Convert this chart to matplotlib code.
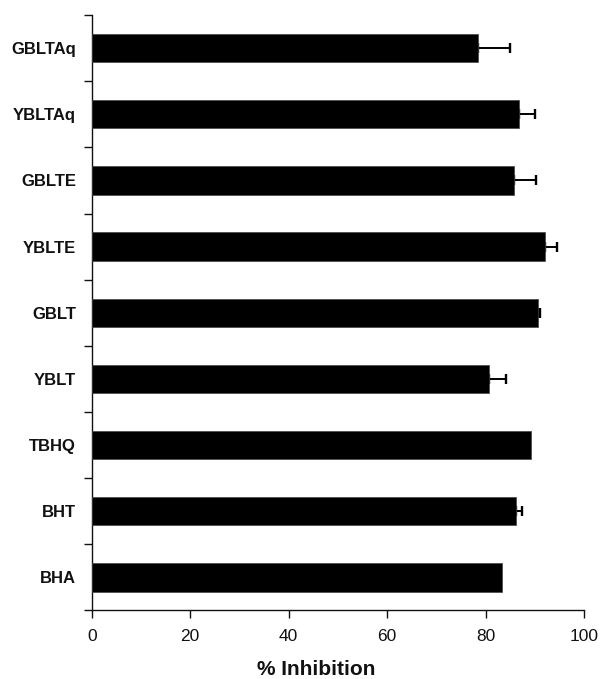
import matplotlib.pyplot as plt
import numpy as np

# Data (top to bottom as shown in the chart)
categories = ["GBLTAq", "YBLTAq", "GBLTE", "YBLTE", "GBLT", "YBLT", "TBHQ", "BHT", "BHA"]
inhibition = [78.4, 86.7, 85.8, 92.0, 90.6, 80.8, 89.2, 86.1, 83.3]
errors = [6.6, 3.3, 4.5, 2.6, 0.5, 3.4, 0.0, 1.3, 0.0]
x_ticks = [0, 20, 40, 60, 80, 100]

plt.rcParams["font.family"] = ["Liberation Sans", "DejaVu Sans"]

fig = plt.figure(figsize=(6.01, 6.79), dpi=100)
ax = fig.add_axes([0.1526, 0.1009, 0.8191, 0.877])

n = len(categories)
pos = np.arange(n)
ax.barh(pos, inhibition, height=0.43, color="black", edgecolor="#444444", linewidth=0.5, zorder=3)

# one-sided error bars (plus side only), drawn behind the bars
has_err = [e > 0 for e in errors]
ax.errorbar(np.array(inhibition)[has_err], pos[has_err],
            xerr=[np.zeros(sum(has_err)), np.array(errors)[has_err]],
            fmt="none", ecolor="black", elinewidth=1.4, capsize=3.3, capthick=1.7, zorder=2)

ax.set_ylim(n - 0.5, -0.5)
ax.set_xlim(0, 100)

# category boundary ticks (outward), labels centred on bars
ax.set_yticks(np.arange(-0.5, n, 1.0))
ax.set_yticklabels([])
ax.set_yticks(pos, minor=True)
ax.set_yticklabels(categories, minor=True, fontsize=12, fontweight="bold", color="#111111")
ax.tick_params(axis="y", which="major", direction="out", length=6, width=1, color="#111111")
ax.tick_params(axis="y", which="minor", length=0, pad=11.3)

ax.set_xticks(x_ticks)
ax.tick_params(axis="x", direction="out", length=6, width=1, labelsize=12.5, pad=7, color="#111111",
               labelcolor="#111111")
ax.set_xlabel("% Inhibition", fontsize=15, fontweight="bold", color="#111111")
ax.xaxis.set_label_coords(0.456, -0.083)

for side in ["top", "right"]:
    ax.spines[side].set_visible(False)
for side in ["left", "bottom"]:
    ax.spines[side].set_linewidth(1)
    ax.spines[side].set_color("#111111")

fig.savefig("out.png", dpi=100)
